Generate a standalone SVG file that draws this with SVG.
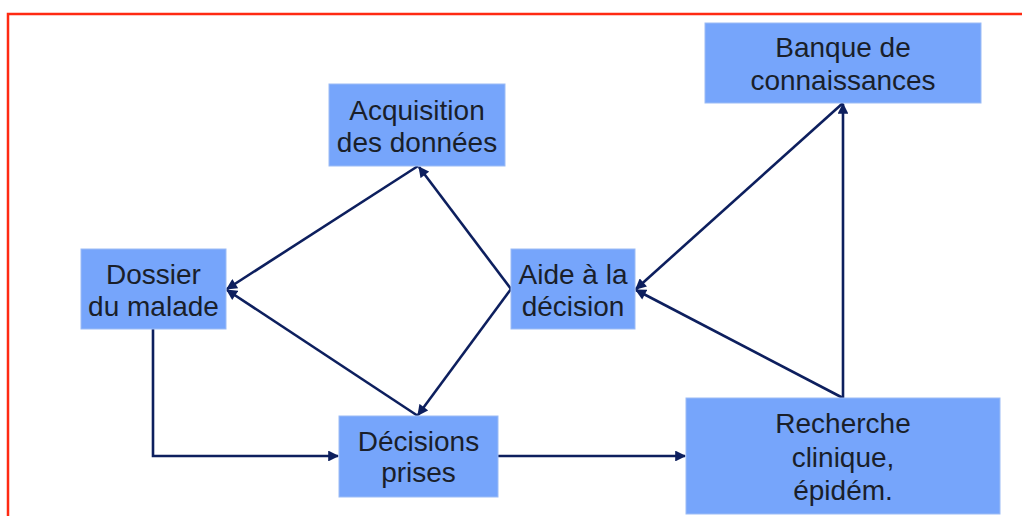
<svg xmlns="http://www.w3.org/2000/svg" width="1022" height="516" viewBox="0 0 1022 516">
<style>
.box{fill:#76a5fb;stroke:#9cbcf5;stroke-width:1}
.t{font-family:"Liberation Sans",Arial,sans-serif;font-size:28px;fill:#1a1f2a;text-anchor:middle}
.c{fill:none;stroke:#0d1f5e;stroke-width:2.6;marker-end:url(#ah)}
</style>
<defs>
<marker id="ah" viewBox="0 0 10 10" refX="9" refY="5" markerWidth="4.6" markerHeight="4.2" orient="auto" markerUnits="strokeWidth">
<path d="M0,0 L10,5 L0,10 Z" fill="#0d1f5e"/>
</marker>
</defs>
<rect x="8" y="14" width="1030" height="520" fill="none" stroke="#ff2a12" stroke-width="2.5"/>
<g id="connectors">
<polyline class="c" points="153,329 153,456 338,456"/>
<line class="c" x1="498" y1="456" x2="685" y2="456"/>
<line class="c" x1="843" y1="398" x2="843" y2="104"/>
<line class="c" x1="843" y1="398" x2="636" y2="290"/>
<line class="c" x1="843" y1="103" x2="636" y2="289"/>
<line class="c" x1="511" y1="289" x2="419" y2="167"/>
<line class="c" x1="511" y1="289" x2="418" y2="415"/>
<line class="c" x1="418" y1="166" x2="227" y2="289"/>
<line class="c" x1="418" y1="416" x2="227" y2="290"/>
</g>
<g id="banque">
<rect class="box" x="705" y="23" width="276" height="80"/>
<text class="t" x="843" y="57">Banque de</text>
<text class="t" x="843" y="90">connaissances</text>
</g>
<g id="acquisition">
<rect class="box" x="329" y="84" width="176" height="82"/>
<text class="t" x="417" y="120">Acquisition</text>
<text class="t" x="417" y="152">des données</text>
</g>
<g id="dossier">
<rect class="box" x="81" y="249" width="145" height="80"/>
<text class="t" x="153.5" y="284">Dossier</text>
<text class="t" x="153.5" y="316">du malade</text>
</g>
<g id="aide">
<rect class="box" x="511" y="249" width="124" height="80"/>
<text class="t" x="573" y="284">Aide à la</text>
<text class="t" x="573" y="316">décision</text>
</g>
<g id="decisions">
<rect class="box" x="339" y="416" width="159" height="81"/>
<text class="t" x="418.5" y="451">Décisions</text>
<text class="t" x="418.5" y="482">prises</text>
</g>
<g id="recherche">
<rect class="box" x="686" y="398" width="314" height="116"/>
<text class="t" x="843" y="433">Recherche</text>
<text class="t" x="843" y="467">clinique,</text>
<text class="t" x="843" y="500">épidém.</text>
</g>
</svg>
